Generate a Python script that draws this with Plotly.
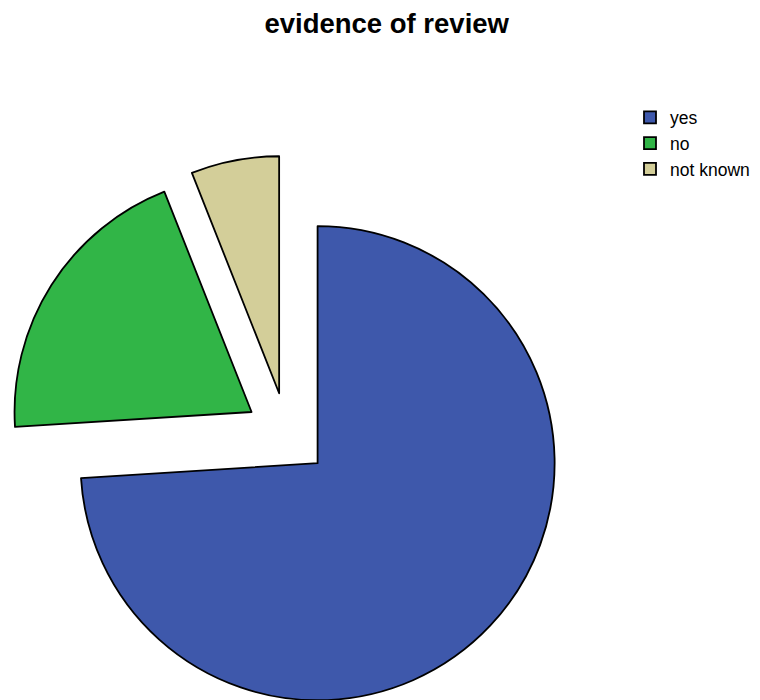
import plotly.graph_objects as go

categories = ["yes", "no", "not known"]
values = [37, 10, 3]
colors = ["#3E58AB", "#31B547", "#D3CE99"]
pulls = [0.177, 0.177, 0.177]

W, H = 760, 707

fig = go.Figure(
    go.Pie(
        labels=categories,
        values=values,
        sort=False,
        direction="clockwise",
        rotation=0,
        pull=pulls,
        marker=dict(colors=colors, line=dict(color="black", width=1.8)),
        textinfo="none",
        domain=dict(x=[0.0, 558 / W], y=[0.0, 561 / H]),
    )
)

fig.update_layout(
    width=W,
    height=H,
    margin=dict(l=0, r=0, t=0, b=0),
    paper_bgcolor="white",
    plot_bgcolor="white",
    font=dict(family="Liberation Sans, Arial, sans-serif", color="black"),
    title=dict(
        text="<b>evidence of review</b>",
        font=dict(size=27.5, color="black"),
        x=378.7 / W,
        xanchor="center",
        y=1 - 15 / H,
        yanchor="middle",
        yref="container",
    ),
    legend=dict(
        x=622 / W,
        xanchor="left",
        y=1 - 91.5 / H,
        yanchor="top",
        font=dict(size=17.5, color="black"),
        bgcolor="rgba(0,0,0,0)",
    ),
)

fig.write_html("out.html")
